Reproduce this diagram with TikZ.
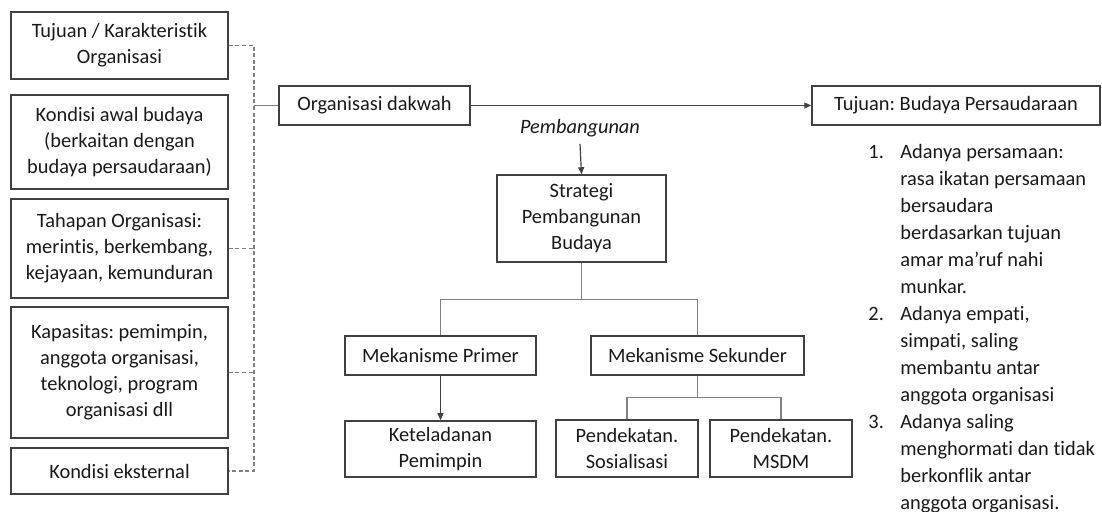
\documentclass[tikz,border=0pt]{standalone}
\usepackage{fontspec}
\setmainfont{Carlito}[RawFeature={-liga;-clig;-calt;-dlig}]
\usepackage{tikz}
\usetikzlibrary{arrows.meta, positioning}
\definecolor{framegray}{RGB}{64,64,64}
\definecolor{linkgray}{RGB}{128,128,128}
\definecolor{inkgray}{RGB}{25,25,25}
\frenchspacing

\begin{document}
\begin{tikzpicture}[
    x=0.5pt, y=-0.5pt,
    every node/.style={text=inkgray},
    box/.style={draw=framegray, line width=0.75pt, inner sep=0pt, align=center, font=\fontsize{10.2}{13}\selectfont},
    link/.style={draw=linkgray, line width=0.75pt},
    dashlink/.style={draw=linkgray, line width=0.6pt, dash pattern=on 2pt off 1.3pt},
    arr/.style={draw=framegray, line width=0.6pt, -{Triangle[length=3.5pt, width=3pt]}}
]
    \useasboundingbox (0,0) rectangle (1102,512);

    % Left factors
    \node[box, minimum width=108.5pt, minimum height=33.5pt] (goal) at (119.5,45.5) {Tujuan / Karakteristik\\Organisasi};
    \node[box, minimum width=108.5pt, minimum height=47pt] (initial) at (119.5,142) {Kondisi awal budaya\\(berkaitan dengan\\budaya persaudaraan)};
    \node[box, minimum width=108.5pt, minimum height=49.5pt] (stage) at (119.5,248.5) {Tahapan Organisasi:\\merintis, berkembang,\\kejayaan, kemunduran};
    \node[box, minimum width=108.5pt, minimum height=65.5pt] (capacity) at (119.5,372.5) {Kapasitas: pemimpin,\\anggota organisasi,\\teknologi, program\\organisasi dll};
    \node[box, minimum width=108.5pt, minimum height=23pt] (external) at (119.5,471) {Kondisi eksternal};
    \coordinate (bracket) at (254,0);

    % Main row
    \node[box, minimum width=95.5pt, minimum height=19.5pt] (org) at (374.5,105.5) {Organisasi dakwah};
    \node[box, minimum width=144pt, minimum height=19.5pt] (target) at (956,105.5) {Tujuan: Budaya Persaudaraan};

    % Strategy tree
    \node[font=\fontsize{10.2}{13}\selectfont\itshape] (build) at (580,128) {Pembangunan};
    \node[box, minimum width=84.5pt, minimum height=43.5pt] (strategy) at (581.5,218.5) {Strategi\\Pembangunan\\Budaya};
    \node[box, minimum width=95.5pt, minimum height=19.5pt] (primary) at (440.5,355.5) {Mekanisme Primer};
    \node[box, minimum width=106.5pt, minimum height=19.5pt] (secondary) at (697.5,355.5) {Mekanisme Sekunder};
    \node[box, minimum width=95.5pt, minimum height=28pt] (leader) at (440.5,449) {Keteladanan\\Pemimpin};
    \node[box, minimum width=71pt, minimum height=28.5pt] (social) at (627,448.5) {Pendekatan.\\Sosialisasi};
    \node[box, minimum width=71pt, minimum height=28.5pt] (hrm) at (781,448.5) {Pendekatan.\\MSDM};

    % Goal list
    \node[anchor=north west, inner sep=0pt, font=\fontsize{10.2}{13.5}\selectfont] (items) at (868,139) {%
        \begin{tabular}{@{}p{16pt}@{}l@{}}
        1. & Adanya persamaan:\\
           & rasa ikatan persamaan\\
           & bersaudara\\
           & berdasarkan tujuan\\
           & amar ma’ruf nahi\\
           & munkar.\\
        2. & Adanya empati,\\
           & simpati, saling\\
           & membantu antar\\
           & anggota organisasi\\
        3. & Adanya saling\\
           & menghormati dan tidak\\
           & berkonflik antar\\
           & anggota organisasi.
        \end{tabular}};

    % Connections
    \draw[dashlink] (goal.east) -- (goal.east -| bracket) -- (external.east -| bracket) -- (external.east);
    \draw[dashlink] (stage.east) -- (stage.east -| bracket);
    \draw[dashlink] (capacity.east) -- (capacity.east -| bracket);
    \draw[link] (org.west -| bracket) -- (org.west);
    \draw[arr] (org.east) -- (target.west);
    \draw[arr] (build.south) -- (strategy.north);
    \draw[link] (strategy.south) -- ++(0,37) -| (primary.north);
    \draw[link] (strategy.south) -- ++(0,37) -| (secondary.north);
    \draw[arr] (primary.south) -- (leader.north);
    \draw[link] (secondary.south) -- ++(0,22) -| (social.north);
    \draw[link] (secondary.south) -- ++(0,22) -| (hrm.north);
\end{tikzpicture}
\end{document}
